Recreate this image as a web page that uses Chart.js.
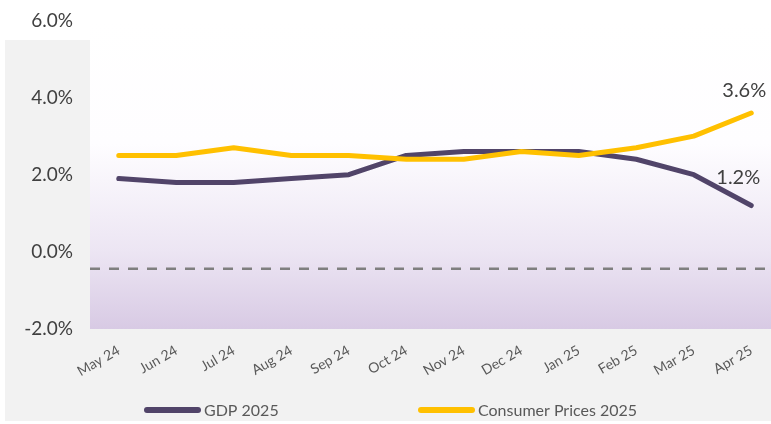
<!DOCTYPE html>
<html>
<head>
<meta charset="utf-8">
<script src="https://cdn.jsdelivr.net/npm/chart.js@4/dist/chart.umd.min.js"></script>
<style>
  html, body { margin: 0; padding: 0; background: #ffffff; overflow: hidden; }
  #chart { display: block; }
</style>
</head>
<body>
<canvas id="chart" width="780" height="424"></canvas>
<script>
// Data
const months = ['May 24', 'Jun 24', 'Jul 24', 'Aug 24', 'Sep 24', 'Oct 24', 'Nov 24', 'Dec 24', 'Jan 25', 'Feb 25', 'Mar 25', 'Apr 25'];
const gdp2025 = [1.9, 1.8, 1.8, 1.9, 2.0, 2.5, 2.6, 2.6, 2.6, 2.4, 2.0, 1.2];
const cpi2025 = [2.5, 2.5, 2.7, 2.5, 2.5, 2.4, 2.4, 2.6, 2.5, 2.7, 3.0, 3.6];
const yTicks = [-2, 0, 2, 4, 6];
const refLine = -0.44;

const FONT = 'Lato, "Open Sans", sans-serif';

// panel + plot-area gradient
const backgroundPlugin = {
    id: 'panelBg',
    beforeDraw(chart) {
        const ctx = chart.ctx;
        const a = chart.chartArea;
        ctx.save();
        ctx.fillStyle = '#ffffff';
        ctx.fillRect(0, 0, chart.width, chart.height);
        ctx.fillStyle = '#f2f2f2';
        ctx.fillRect(5, 40, chart.width - 5, 381);
        const g = ctx.createLinearGradient(0, a.top, 0, a.bottom);
        g.addColorStop(0, '#ffffff');
        g.addColorStop(0.4, '#fefdff');
        g.addColorStop(0.75, '#ece5f3');
        g.addColorStop(1, '#d8cae4');
        ctx.fillStyle = g;
        ctx.fillRect(a.left, a.top, a.right - a.left, a.bottom - a.top);
        ctx.restore();
    }
};

// dashed reference line
const refLinePlugin = {
    id: 'refLine',
    beforeDatasetsDraw(chart) {
        const ctx = chart.ctx;
        const a = chart.chartArea;
        const y = chart.scales.y.getPixelForValue(refLine);
        ctx.save();
        ctx.strokeStyle = '#7f7f7f';
        ctx.lineWidth = 2.5;
        ctx.setLineDash([10, 9]);
        ctx.beginPath();
        ctx.moveTo(a.left, y);
        ctx.lineTo(a.right, y);
        ctx.stroke();
        ctx.restore();
    }
};

// value labels on the last points
const endLabelPlugin = {
    id: 'endLabels',
    afterDatasetsDraw(chart) {
        const ctx = chart.ctx;
        const offsets = { gdp: [-13, -28], cpi: [-7, -22] };
        ctx.save();
        ctx.font = '20px ' + FONT;
        ctx.fillStyle = '#404040';
        ctx.textAlign = 'center';
        ctx.textBaseline = 'middle';
        chart.data.datasets.forEach((ds, i) => {
            const meta = chart.getDatasetMeta(i);
            const last = meta.data[meta.data.length - 1];
            const off = offsets[ds.key];
            const v = ds.data[ds.data.length - 1];
            ctx.fillText(v.toFixed(1) + '%', last.x + off[0], last.y + off[1]);
        });
        ctx.restore();
    }
};

// legend laid out like the original
const legendPlugin = {
    id: 'customLegend',
    afterDraw(chart) {
        const ctx = chart.ctx;
        const spots = { gdp: 144, cpi: 418 };
        ctx.save();
        ctx.font = '16px ' + FONT;
        ctx.textBaseline = 'middle';
        chart.data.datasets.forEach(ds => {
            const x = spots[ds.key];
            const y = 410;
            ctx.strokeStyle = ds.borderColor;
            ctx.lineWidth = 6;
            ctx.lineCap = 'round';
            ctx.beginPath();
            ctx.moveTo(x + 3, y);
            ctx.lineTo(x + 54, y);
            ctx.stroke();
            ctx.fillStyle = '#595959';
            ctx.fillText(ds.label, x + 60, y + 1);
        });
        ctx.restore();
    }
};

const ctx = document.getElementById('chart').getContext('2d');
const chart = new Chart(ctx, {
    type: 'line',
    data: {
        labels: months,
        datasets: [{
            key: 'gdp',
            label: 'GDP 2025',
            data: gdp2025,
            borderColor: '#514469',
            borderWidth: 5,
            order: 1
        }, {
            key: 'cpi',
            label: 'Consumer Prices 2025',
            data: cpi2025,
            borderColor: '#ffc000',
            borderWidth: 5,
            order: 0
        }]
    },
    options: {
        responsive: false,
        animation: false,
        layout: { padding: { top: 17, right: 0, bottom: 0, left: 0 } },
        elements: {
            point: { radius: 0, hoverRadius: 0 },
            line: { tension: 0, borderCapStyle: 'round', borderJoinStyle: 'round' }
        },
        plugins: {
            legend: { display: false },
            tooltip: { enabled: false }
        },
        scales: {
            x: {
                offset: true,
                grid: { display: false },
                border: { display: false },
                ticks: {
                    minRotation: 30,
                    maxRotation: 30,
                    padding: 5,
                    color: '#595959',
                    font: { family: FONT, size: 14 }
                },
                afterFit(scale) { scale.height = 95; }
            },
            y: {
                min: yTicks[0],
                max: yTicks[yTicks.length - 1],
                grid: { display: false },
                border: { display: false },
                afterBuildTicks(scale) { scale.ticks = yTicks.map(v => ({ value: v })); },
                ticks: {
                    padding: 9,
                    color: '#404040',
                    font: { family: FONT, size: 19 },
                    callback: v => v.toFixed(1) + '%'
                },
                afterFit(scale) { scale.width = 90; }
            }
        }
    },
    plugins: [backgroundPlugin, refLinePlugin, endLabelPlugin, legendPlugin]
});
</script>
</body>
</html>
